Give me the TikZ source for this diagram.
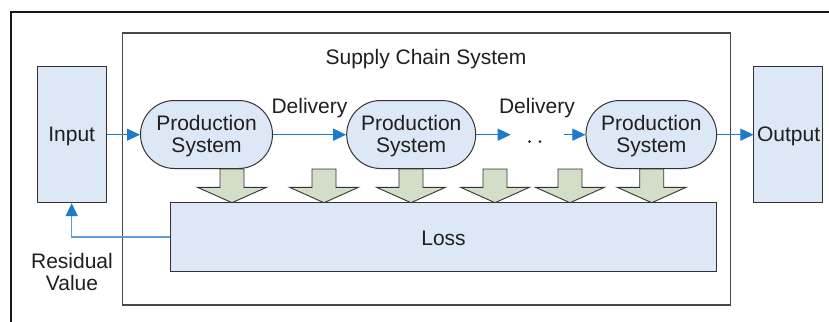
\documentclass[tikz,border=0pt]{standalone}
\usepackage{fontspec}
\setmainfont{Liberation Sans}
\usetikzlibrary{arrows.meta,shapes.misc}
\definecolor{boxfill}{HTML}{DCE8F5}
\definecolor{lossarrow}{HTML}{D3DEC9}
\definecolor{flowblue}{HTML}{1E7BC8}
\definecolor{returnblue}{HTML}{5B9FD6}
\definecolor{edge}{HTML}{333333}
\tikzset{
  lbl/.style={font=\fontsize{21}{22}\selectfont, text=black!88, align=center, inner sep=0pt},
  iobox/.style={draw=edge, line width=1pt, fill=boxfill, minimum width=69pt, minimum height=136pt, inner sep=0pt},
  prodsys/.style={draw=edge, line width=1pt, fill=boxfill, rounded rectangle, minimum width=132pt, minimum height=68pt, inner sep=0pt},
  flow/.style={draw=flowblue, line width=1pt, -{Triangle[length=13pt,width=12pt]}},
  feedback/.style={draw=returnblue, line width=1.3pt, -{Triangle[length=13pt,width=12pt,color=flowblue]}},
  blockarrow/.style={draw=edge, line width=0.9pt, fill=lossarrow, line join=miter}
}
\newcommand{\lossarrowat}[1]{%
  \draw[blockarrow] (#1-12,169) -- (#1+12,169) -- (#1+12,187.3) -- (#1+34.5,187.3)
    -- (#1,202.7) -- (#1-34.5,187.3) -- (#1-12,187.3) -- cycle;}
\begin{document}
\begin{tikzpicture}[x=1pt,y=-1pt]
  \useasboundingbox (0,0) rectangle (829,321);
  % outer frame, running off the page on the right and bottom
  \begin{scope}
    \clip (0,0) rectangle (829,321);
    \draw[line width=2pt, draw=black!90] (11,340) -- (11,12) -- (850,12);
  \end{scope}
  % supply chain system boundary
  \node[draw=edge!90, line width=1.3pt, minimum width=608pt, minimum height=272pt, inner sep=0pt]
    (scs) at (426.7,169) {};
  \node[lbl] (scstitle) at (426,59) {Supply Chain System};

  % input and output
  \node[iobox] (input) at (71.7,134.7) {};
  \node[lbl] (inputlbl) at (71.7,136) {Input};
  \node[iobox, minimum width=68.7pt] (output) at (788.3,134.7) {};
  \node[lbl] (outputlbl) at (788.6,136) {Output};

  % production systems
  \node[prodsys] (ps1) at (206.5,134.5) {};
  \node[prodsys, minimum width=129pt] (ps2) at (411.2,134.5) {};
  \node[prodsys, minimum width=130.7pt] (ps3) at (651.3,134.5) {};
  \node[lbl] (ps1lbl) at (206.5,136) {Production\\System};
  \node[lbl] (ps2lbl) at (411.2,136) {Production\\System};
  \node[lbl] (ps3lbl) at (651.3,136) {Production\\System};

  % loss box
  \node[draw=edge, line width=1pt, fill=boxfill, minimum width=546.4pt, minimum height=68.3pt, inner sep=0pt]
    (loss) at (443.5,236.9) {};
  \node[lbl] (losslbl) at (443.5,238.5) {Loss};

  % losses flowing down
  \lossarrowat{232}
  \lossarrowat{324}
  \lossarrowat{411}
  \lossarrowat{495}
  \lossarrowat{570}
  \lossarrowat{651.7}

  % material flow
  \coordinate (gapin) at (510.7,134.7);
  \coordinate (gapout) at (564,134.7);
  \draw[flow] (input.east |- 0,134.7) -- (ps1.west |- 0,134.7);
  \draw[flow] (ps1.east |- 0,134.7) -- (ps2.west |- 0,134.7);
  \draw[flow] (ps2.east |- 0,134.7) -- (gapin);
  \draw[flow] (gapout) -- (ps3.west |- 0,134.7);
  \draw[flow] (ps3.east |- 0,134.7) -- (output.west |- 0,134.7);
  \fill[black!85] (529.5,141.7) circle (1.5pt) (540,141.7) circle (1.5pt);
  \node[lbl] (del1) at (309.5,108) {Delivery};
  \node[lbl] (del2) at (537,108) {Delivery};

  % residual value fed back to the input
  \draw[feedback] (loss.west |- 0,237) -| (input.south);
  \node[lbl] (resid) at (72,271.5) {Residual\\Value};
\end{tikzpicture}
\end{document}
